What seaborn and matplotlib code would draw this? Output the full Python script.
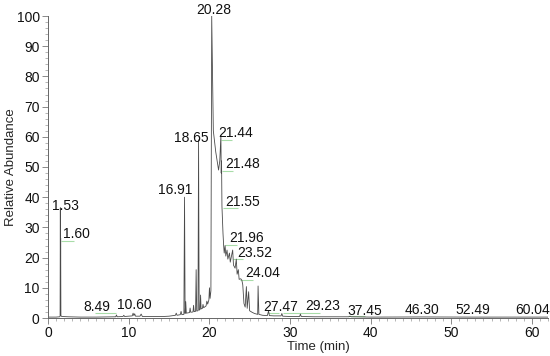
import pandas as pd
import numpy as np
import matplotlib
matplotlib.use("Agg")
import matplotlib.pyplot as plt
import seaborn as sns
from matplotlib.ticker import MultipleLocator

# retention time (min) and relative abundance
rt = [0.0, 1.0, 1.45, 1.50, 1.53, 1.55, 1.57, 1.60, 1.70, 2.5, 4.0, 6.0,
      8.0, 8.40, 8.49, 8.58, 9.3, 9.4, 9.5, 10.0, 10.45, 10.55, 10.65, 10.75,
      10.85, 11.4, 11.55, 11.7, 12.5, 13.5, 14.3, 15.0, 15.5, 15.8, 15.9,
      16.0, 16.4, 16.5, 16.6, 16.85, 16.93, 17.0, 17.08, 17.15, 17.55, 17.62,
      17.7, 17.98, 18.05, 18.12, 18.3, 18.37, 18.44, 18.6, 18.67, 18.74,
      18.85, 18.92, 18.98, 19.15, 19.22, 19.3, 19.6, 19.7, 19.8, 19.95,
      20.02, 20.1, 20.2, 20.30, 20.5, 20.8, 21.15, 21.3, 21.44, 21.48, 21.52,
      21.57, 21.7, 21.78, 21.85, 21.96, 22.05, 22.2, 22.3, 22.5, 22.6, 22.9,
      23.0, 23.2, 23.35, 23.45, 23.6, 23.7, 23.9, 24.04, 24.15, 24.3, 24.45,
      24.6, 24.7, 24.88, 25.0, 25.3, 25.6, 26.0, 26.05, 26.15, 26.6, 27.2,
      27.35, 27.45, 28.0, 28.9, 29.0, 29.1, 30.0, 31.2, 31.3, 31.4, 33.0,
      35.0, 37.3, 37.45, 37.6, 40.0, 46.3, 52.5, 60.0, 62.0]
abundance = [0.3, 0.3, 0.4, 0.6, 36.5, 9.0, 26.5, 0.8, 0.5, 0.4, 0.3, 0.3,
             0.4, 0.4, 1.0, 0.4, 0.5, 0.9, 0.5, 0.6, 0.7, 1.6, 0.8, 1.4,
             0.6, 0.6, 1.3, 0.5, 0.5, 0.5, 0.5, 0.6, 0.8, 0.9, 1.6,
             0.9, 1.1, 2.2, 1.1, 1.2, 40.0, 1.5, 5.4, 1.6, 1.8, 3.3,
             1.9, 2.0, 4.2, 2.1, 2.2, 16.0, 2.3, 2.4, 59.0, 2.6,
             2.8, 7.6, 3.0, 3.2, 4.5, 3.4, 4.0, 5.6, 4.6, 6.0,
             10.0, 6.5, 9.0, 100.0, 62.0, 55.0, 49.0, 52.0, 60.5, 48.0, 52.0,
             37.0, 28.0, 24.0, 21.5, 24.0, 20.5, 22.5, 19.5, 21.5, 18.5, 22.5,
             17.5, 16.5, 19.5, 14.5, 16.0, 12.8, 13.0, 12.5, 11.0, 4.8, 3.6,
             10.4, 3.2, 8.7, 2.4, 1.9, 1.5, 1.2, 10.6, 1.2, 0.9, 0.8,
             2.4, 0.8, 0.7, 0.7, 1.5, 0.6, 0.5, 0.5, 1.3, 0.5, 0.4,
             0.4, 0.4, 0.6, 0.4, 0.3, 0.35, 0.3, 0.3, 0.3]

# peak labels: text, left x, baseline y
peak_labels = ["1.53", "1.60", "8.49", "10.60", "16.91", "18.65", "20.28",
               "21.44", "21.48", "21.55", "21.96", "23.52", "24.04", "27.47",
               "29.23", "37.45", "46.30", "52.49", "60.04"]
label_x = [0.5, 1.86, 4.34, 8.56, 13.65, 15.6, 18.4, 21.1, 21.96, 21.96,
           22.46, 23.45, 24.44, 26.7, 31.9, 37.1, 44.2, 50.5, 57.9]
label_y = [35.6, 26.6, 2.4, 3.0, 41.0, 58.3, 100.6, 59.9, 49.6, 37.2,
           25.1, 20.2, 13.5, 2.4, 2.7, 1.1, 1.3, 1.3, 1.3]

# light green leader lines: start x, end x, y
leader_x0 = [1.57, 5.8, 21.43, 21.55, 21.67, 21.96, 23.0, 23.8, 27.3, 29.1, 37.2]
leader_x1 = [3.2, 8.4, 22.8, 23.0, 23.6, 23.4, 24.2, 25.4, 28.6, 33.7, 39.3]
leader_y = [25.6, 1.6, 59.0, 48.8, 36.4, 24.3, 19.4, 12.7, 1.8, 1.8, 0.6]

sns.set_style("ticks")
plt.rcParams['font.family'] = ['Liberation Sans', 'DejaVu Sans']

df = pd.DataFrame({"Time (min)": rt, "Relative Abundance": abundance})

fig = plt.figure(figsize=(5.5, 3.56), dpi=100)
ax = fig.add_axes([48 / 550, 38 / 356, 500 / 550, 302 / 356])

ax.hlines(leader_y, leader_x0, leader_x1, color="#a8dca8", lw=0.8, zorder=1)
sns.lineplot(data=df, x="Time (min)", y="Relative Abundance", ax=ax,
             estimator=None, sort=False, color="#4a4a4a", lw=0.6, zorder=2)

for t, x, y in zip(peak_labels, label_x, label_y):
    ax.text(x, y, t, fontsize=10, ha="left", va="baseline", color="#111111",
            clip_on=False)

ax.set_xlim(0, 62)
ax.set_ylim(0, 100)
ax.set_xticks(np.arange(0, 61, 10))
ax.set_yticks(np.arange(0, 101, 10))
ax.xaxis.set_minor_locator(MultipleLocator(1))
ax.yaxis.set_minor_locator(MultipleLocator(2))
ax.tick_params(which="major", length=4, width=0.6, pad=2, labelsize=10,
               color="#777777", labelcolor="#111111")
ax.tick_params(which="minor", length=2.2, width=0.5, color="#999999")
sns.despine(ax=ax)
for s in ["left", "bottom"]:
    ax.spines[s].set_linewidth(0.7)
    ax.spines[s].set_color("#666666")

ax.set_xlabel("Time (min)", fontsize=9.5)
ax.set_ylabel("Relative Abundance", fontsize=9.5)
ax.xaxis.set_label_coords(0.54, -0.075)
ax.yaxis.set_label_coords(-0.062, 0.5)

fig.savefig("out.png", dpi=100)
